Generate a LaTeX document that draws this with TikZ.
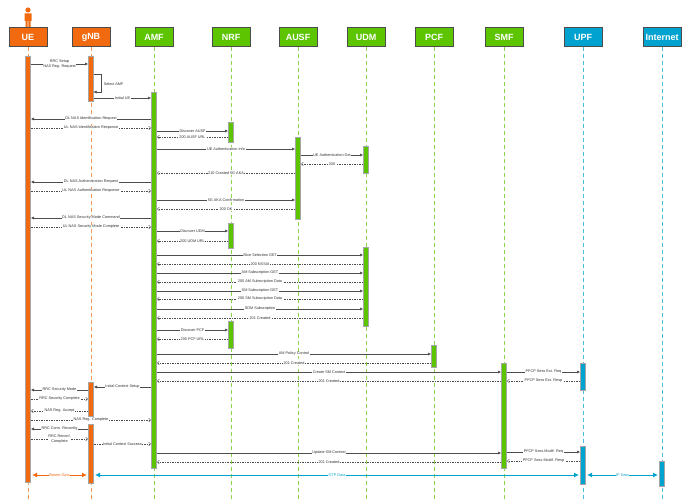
\documentclass[tikz,border=0pt]{standalone}
\usepackage{fontspec}
\setmainfont{Liberation Sans}
\usetikzlibrary{arrows.meta,positioning}
\definecolor{orng}{HTML}{F26A0F}
\definecolor{grn}{HTML}{5CC400}
\definecolor{blu}{HTML}{00A3CF}
\tikzset{
  head/.style={draw=black!70,fill=#1,text=white,font=\bfseries\fontsize{9}{10}\selectfont,minimum width=38pt,minimum height=19pt,inner sep=0pt},
  life/.style={#1!70,dashed,line width=0.8pt,dash pattern=on 4pt off 3pt},
  bar/.style={fill=#1,draw=black!35,line width=0.3pt},
  msg/.style={-{Latex[length=3pt,width=3pt]},black!70,line width=0.5pt,shorten >=3pt,shorten <=3pt},
  ret/.style={-{Straight Barb[length=2pt,width=3.5pt]},black!70,line width=0.4pt,dash pattern=on 1.5pt off 1pt,shorten >=3pt,shorten <=3pt},
  lbl/.style={fill=white,inner sep=0.6pt,font=\fontsize{3.8}{4.4}\selectfont,text=black!80,align=center},
  data/.style={{Latex[length=5pt,width=5pt]}-{Latex[length=5pt,width=5pt]},line width=1pt,#1,shorten >=4pt,shorten <=4pt}
}
% message between two lifelines at height y
\newcommand\msg[5][msg]{\draw[#1] (#3|-0,#2) -- node[lbl]{#5} (#4|-0,#2);}
\begin{document}
\begin{tikzpicture}[x=1pt,y=-1pt]
\useasboundingbox (0,0) rectangle (688,500);
% heads
\foreach \n/\x/\t/\c in {ue/28/UE/orng,gnb/91/gNB/orng,amf/154/AMF/grn,nrf/231/NRF/grn,ausf/298/AUSF/grn,udm/366/UDM/grn,pcf/434/PCF/grn,smf/504/SMF/grn,upf/583/UPF/blu,inet/662/Internet/blu}{
  \node[head=\c] (\n) at (\x,37) {\t};
  \draw[life=\c] (\n.south) -- (\x,500);
}
% person icon
\fill[orng] (28,10) circle (2.6);
\fill[orng] (24.5,13.5) rectangle (31.5,21) (25.5,21) rectangle (27.6,27) (28.4,21) rectangle (30.5,27);
% activation bars
\foreach \x/\a/\b/\c in {28/56/482/orng,91/56/101/orng,91/382/416/orng,91/424/483/orng,154/92/468/grn,
  231/122/142/grn,231/223/248/grn,231/321/348/grn,298/137/219/grn,366/146/173/grn,366/247/326/grn,
  434/345/367/grn,504/363/468/grn,583/363/390/blu,583/446/484/blu,662/461/486/blu}
  \draw[bar=\c] (\x-2.5,\a) rectangle (\x+2.5,\b);
% messages
\msg{64}{ue}{gnb}{RRC Setup\\NAS Reg. Request}
\draw[msg,shorten <=0pt,shorten >=0pt] (93.5,74) -- (101,74) -- (101,92) -- (93.5,92);
\node[lbl,anchor=west] (sel) at (103,84) {Select AMF};
\msg{98}{gnb}{amf}{Initial UE}
\msg{119}{amf}{ue}{DL NAS Identification Request}
\msg[ret]{128}{ue}{amf}{UL NAS Identification Response}
\msg{131}{amf}{nrf}{Discover AUSF}
\msg[ret]{137}{nrf}{amf}{200 AUSF URL}
\msg{149}{amf}{ausf}{UE Authentication Info}
\msg{155}{ausf}{udm}{UE Authentication Get}
\msg[ret]{164}{udm}{ausf}{200}
\msg[ret]{173}{ausf}{amf}{210 Created 5G AKA}
\msg{182}{amf}{ue}{DL NAS Authentication Request}
\msg[ret]{191}{ue}{amf}{UL NAS Authentication Response}
\msg{200}{amf}{ausf}{5G AKA Confirmation}
\msg[ret]{209}{ausf}{amf}{200 OK}
\msg{218}{amf}{ue}{DL NAS Security Mode Command}
\msg[ret]{227}{ue}{amf}{UL NAS Security Mode Complete}
\msg{231}{amf}{nrf}{Discover UDM}
\msg[ret]{241}{nrf}{amf}{200 UDM URL}
\msg{255}{amf}{udm}{Slice Selection GET}
\msg[ret]{264}{udm}{amf}{200 NSSAI}
\msg{273}{amf}{udm}{AM Subscription GET}
\msg[ret]{282}{udm}{amf}{200 AM Subscription Data}
\msg{291}{amf}{udm}{SM Subscription GET}
\msg[ret]{299}{udm}{amf}{200 SM Subscription Data}
\msg{309}{amf}{udm}{SDM Subscription}
\msg[ret]{318}{udm}{amf}{201 Created}
\msg{330}{amf}{nrf}{Discover PCF}
\msg[ret]{339}{nrf}{amf}{200 PCF URL}
\msg{354}{amf}{pcf}{AM Policy Control}
\msg[ret]{363}{pcf}{amf}{201 Created}
\msg{372}{amf}{smf}{Create SM Context}
\msg{372}{smf}{upf}{PFCP Sess Est. Req}
\msg[ret]{381}{smf}{amf}{201 Created}
\msg[ret]{381}{upf}{smf}{PFCP Sess Est. Resp}
\msg{387}{amf}{gnb}{Initial Context Setup}
\msg{390}{gnb}{ue}{RRC Security Mode}
\msg[ret]{399}{ue}{gnb}{RRC Security Complete}
\msg[ret]{411}{gnb}{ue}{NAS Reg. Accept}
\msg[ret]{420}{ue}{amf}{NAS Reg. Complete}
\msg{429}{gnb}{ue}{RRC Conn. Reconfig}
\msg[ret]{439}{ue}{gnb}{RRC Reconf.\\Complete}
\msg[ret]{444}{gnb}{amf}{Initial Context Success}
\msg{453}{amf}{smf}{Update SM Context}
\msg{452}{smf}{upf}{PFCP Sess Modif. Req}
\msg[ret]{462}{smf}{amf}{201 Created}
\msg[ret]{461}{upf}{smf}{PFCP Sess Modif. Resp}
% user plane
\draw[data=orng] (ue|-0,475) -- node[lbl,text=orng]{Bearer Data} (gnb|-0,475);
\draw[data=blu] (gnb|-0,475) -- node[lbl,text=blu]{GTP Data} (upf|-0,475);
\draw[data=blu] (upf|-0,475) -- node[lbl,text=blu]{IP Data} (inet|-0,475);
\end{tikzpicture}
\end{document}
